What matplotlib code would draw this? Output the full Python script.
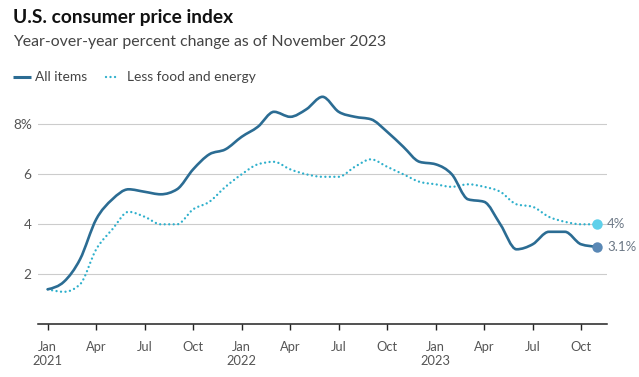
import numpy as np
import matplotlib
matplotlib.use("Agg")
import matplotlib.pyplot as plt
from matplotlib.path import Path
from matplotlib.patches import PathPatch
from matplotlib.lines import Line2D

# ---- data (monthly, Jan 2021 .. Nov 2023) ----
all_items = [1.4, 1.7, 2.6, 4.2, 5.0, 5.4, 5.3, 5.2, 5.4, 6.2, 6.8, 7.0,
             7.5, 7.9, 8.5, 8.3, 8.6, 9.1, 8.5, 8.3, 8.2, 7.7, 7.1, 6.5,
             6.4, 6.0, 5.0, 4.9, 4.0, 3.0, 3.2, 3.7, 3.7, 3.2, 3.1]
core = [1.4, 1.3, 1.6, 3.0, 3.8, 4.5, 4.3, 4.0, 4.0, 4.6, 4.9, 5.5,
        6.0, 6.4, 6.5, 6.2, 6.0, 5.9, 5.9, 6.3, 6.6, 6.3, 6.0, 5.7,
        5.6, 5.5, 5.6, 5.5, 5.3, 4.8, 4.7, 4.3, 4.1, 4.0, 4.0]
tick_months = [0, 3, 6, 9, 12, 15, 18, 21, 24, 27, 30, 33]
tick_labels = ["Jan\n2021", "Apr", "Jul", "Oct", "Jan\n2022", "Apr", "Jul", "Oct",
               "Jan\n2023", "Apr", "Jul", "Oct"]
y_ticks = [2, 4, 6, 8]
y_tick_labels = ["2", "4", "6", "8%"]
end_labels = ["3.1%", "4%"]
series_names = ["All items", "Less food and energy"]

C_ALL = "#2b6c93"
C_CORE = "#2fb0cc"
C_ALL_DOT = "#5a88b5"
C_CORE_DOT = "#5fd0ea"
GRAY = "#555555"
DOTS = (0, (0.01, 1.9))

plt.rcParams['font.family'] = ['Lato', 'DejaVu Sans']


def monotone_path(x, y):
    """Monotone cubic (d3 curveMonotoneX) Bezier path through the data."""
    x = np.asarray(x, float)
    y = np.asarray(y, float)
    n = len(x)
    h = np.diff(x)
    s = np.diff(y) / h
    t = np.zeros(n)
    for i in range(1, n - 1):
        p = (s[i - 1] * h[i] + s[i] * h[i - 1]) / (h[i - 1] + h[i])
        t[i] = (np.sign(s[i - 1]) + np.sign(s[i])) * min(abs(s[i - 1]), abs(s[i]), 0.5 * abs(p))
    t[0] = (3 * s[0] - t[1]) / 2
    t[-1] = (3 * s[-1] - t[-2]) / 2
    verts = [(x[0], y[0])]
    codes = [Path.MOVETO]
    for i in range(n - 1):
        d = h[i] / 3
        verts += [(x[i] + d, y[i] + t[i] * d), (x[i + 1] - d, y[i + 1] - t[i + 1] * d), (x[i + 1], y[i + 1])]
        codes += [Path.CURVE4] * 3
    return Path(verts, codes)


months = np.arange(len(all_items))

W, H = 639, 377
fig = plt.figure(figsize=(W / 100, H / 100), dpi=100)
ax = fig.add_axes([38 / W, (H - 324.3) / H, 569 / W, 235 / H])

ax.add_patch(PathPatch(monotone_path(months, core), fill=False, edgecolor=C_CORE,
                       lw=1.7, linestyle=DOTS, capstyle='round', zorder=3))
ax.add_patch(PathPatch(monotone_path(months, all_items), fill=False, edgecolor=C_ALL,
                       lw=1.9, capstyle='round', joinstyle='round', zorder=4))

ax.plot([months[-1]], [all_items[-1]], 'o', ms=7.5, color=C_ALL_DOT, mec='none', zorder=5)
ax.plot([months[-1]], [core[-1]], 'o', ms=7.5, color=C_CORE_DOT, mec='none', zorder=5)
ax.annotate(end_labels[0], (months[-1], all_items[-1]), xytext=(7, 0), textcoords='offset points',
            ha='left', va='center', fontsize=9.5, color="#6b7785", annotation_clip=False)
ax.annotate(end_labels[1], (months[-1], core[-1]), xytext=(7, 0), textcoords='offset points',
            ha='left', va='center', fontsize=9.5, color="#6b7785", annotation_clip=False)

ax.set_xlim(-0.6, 34.6)
ax.set_ylim(0, 9.4)
ax.set_yticks(y_ticks)
ax.set_yticklabels(y_tick_labels)
ax.set_xticks(tick_months)
ax.set_xticklabels(tick_labels)
ax.grid(axis='y', color="#cccccc", lw=0.8)
ax.set_axisbelow(True)
for sp in ['top', 'right', 'left']:
    ax.spines[sp].set_visible(False)
ax.spines['bottom'].set_color("#222222")
ax.spines['bottom'].set_linewidth(1.1)
ax.tick_params(axis='y', length=0, pad=4.5, labelsize=9.8, labelcolor=GRAY)
ax.tick_params(axis='x', length=4, width=1, color="#222222", pad=8, labelsize=9.3, labelcolor=GRAY)

fig.text(13 / W, 1 - 17 / H, "U.S. consumer price index", fontsize=13.8, fontweight='bold',
         color="#111111", va='center', ha='left')
fig.text(13 / W, 1 - 42 / H, "Year-over-year percent change as of November 2023", fontsize=11.4,
         color="#444444", va='center', ha='left')

# legend (manual, figure coordinates)
ly = 1 - 77 / H
fig.add_artist(Line2D([13 / W, 31 / W], [ly, ly], transform=fig.transFigure, color=C_ALL, lw=2.2,
                      solid_capstyle='butt'))
fig.text(35 / W, ly, series_names[0], fontsize=9.9, color="#444444", va='center', ha='left')
fig.add_artist(Line2D([106 / W, 118 / W], [ly, ly], transform=fig.transFigure, color=C_CORE, lw=1.7,
                      linestyle=DOTS, dash_capstyle='round'))
fig.text(127 / W, ly, series_names[1], fontsize=9.9, color="#444444", va='center', ha='left')

fig.savefig("out.png", dpi=100)
